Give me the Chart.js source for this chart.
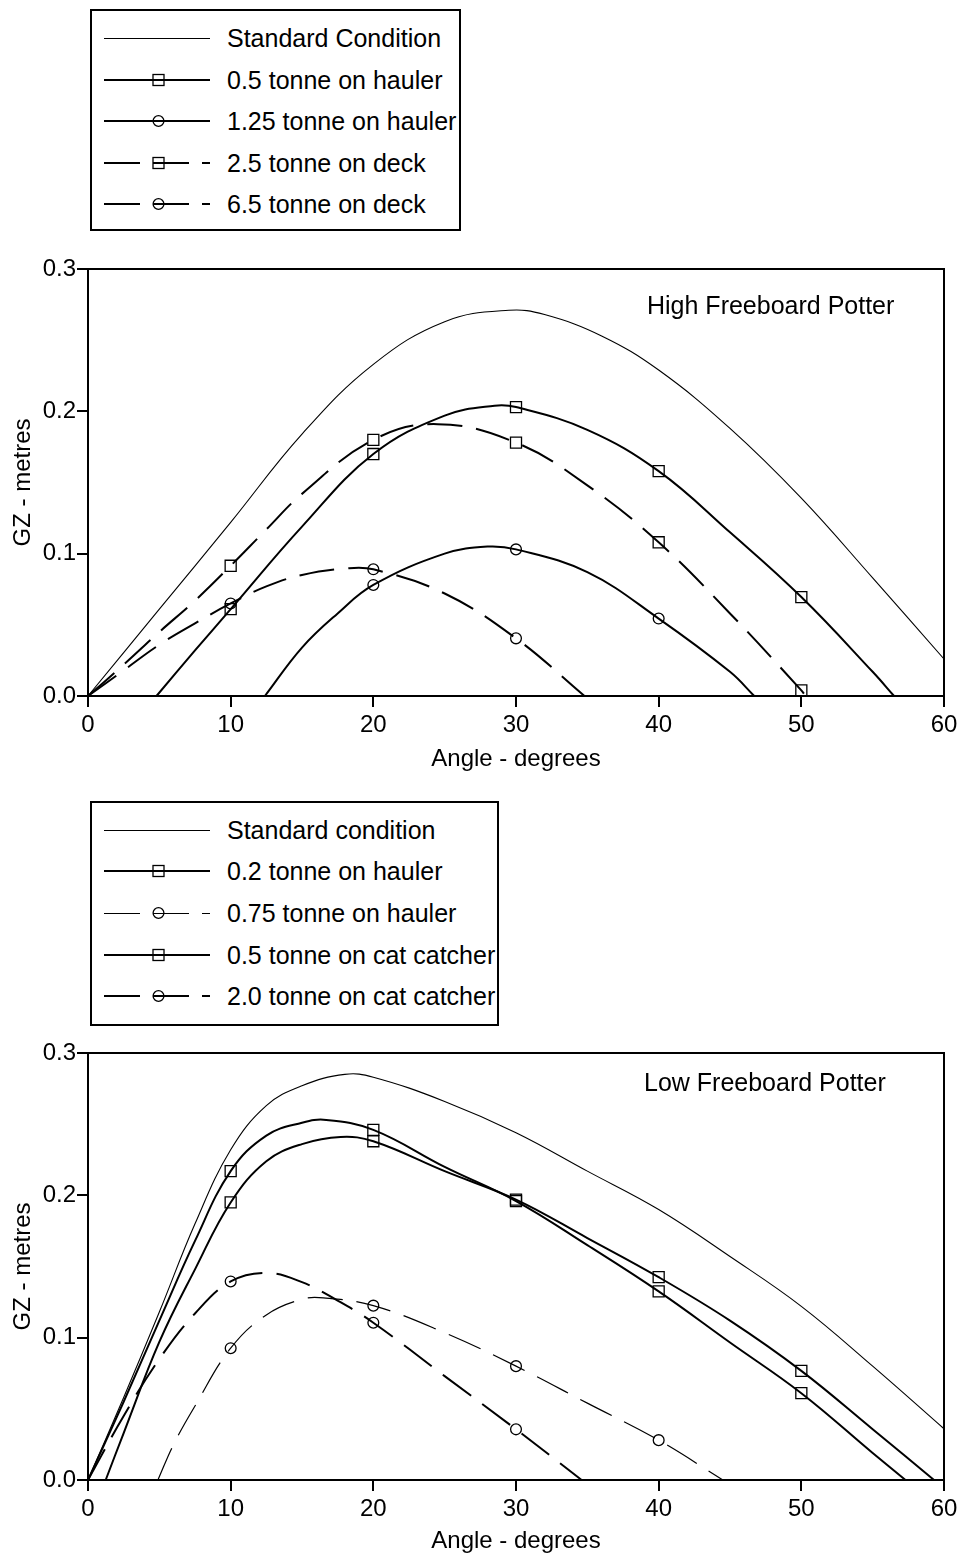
<!DOCTYPE html>
<html>
<head>
<meta charset="utf-8">
<script src="https://cdn.jsdelivr.net/npm/chart.js@4.4.1/dist/chart.umd.min.js"></script>
<style>
html,body{margin:0;padding:0;background:#fff;}
body{width:963px;height:1558px;position:relative;overflow:hidden;font-family:"Liberation Sans",Arial,sans-serif;color:#000;}
.panel{position:absolute;left:0;width:963px;height:779px;}
.panel canvas{position:absolute;left:0;top:0;}
.legend{position:absolute;border:2px solid #000;background:#fff;box-sizing:border-box;}
.row{position:absolute;left:0;height:30px;width:100%;}
.row svg{position:absolute;left:12px;top:5px;}
.row span{position:absolute;left:135px;top:0;font-size:25px;line-height:30px;white-space:nowrap;}
.ptitle{position:absolute;font-size:25px;line-height:30px;white-space:nowrap;}
</style>
</head>
<body>
<div class="panel" id="p1" style="top:0px"><canvas id="c1" width="963" height="779"></canvas></div>
<div class="panel" id="p2" style="top:779px"><canvas id="c2" width="963" height="779"></canvas></div>
<div class="legend" id="leg1" style="left:90px;top:9px;width:371px;height:222px;"></div>
<div class="legend" id="leg2" style="left:90px;top:801px;width:409px;height:225px;"></div>
<div class="ptitle" style="left:647px;top:290px;">High Freeboard Potter</div>
<div class="ptitle" style="left:644px;top:1067px;">Low Freeboard Potter</div>
<script>
// ---------- Axis ticks ----------
const angleTicks = [0, 10, 20, 30, 40, 50, 60];
const gzTicks = [0.0, 0.1, 0.2, 0.3];
const markerAngles = [10, 20, 30, 40, 50];

// ---------- High Freeboard Potter: [angle (deg), GZ (m)] ----------
const hiStandard = [[0,0],[5,0.061],[10,0.122],[15,0.184],[20,0.233],[25,0.263],[29.5,0.271],[32,0.268],[36,0.253],[40,0.229],[45,0.188],[50,0.139],[55,0.083],[60,0.026]];
const hiHauler05 = [[4.8,0],[7.5,0.032],[10,0.061],[15,0.119],[20,0.170],[25,0.197],[28.5,0.204],[30,0.203],[35,0.187],[40,0.158],[45,0.115],[50,0.0695],[55,0.017],[56.5,0]];
const hiHauler125 = [[12.4,0],[15,0.034],[17.5,0.058],[20,0.078],[25,0.100],[28,0.105],[30,0.103],[35,0.087],[40,0.0544],[45,0.017],[46.7,0]];
const hiDeck25 = [[0,0],[2.5,0.022],[5,0.045],[7.5,0.067],[10,0.0915],[12.5,0.117],[15,0.142],[20,0.180],[24.5,0.191],[30,0.178],[35,0.148],[40,0.108],[45,0.058],[50,0.004],[50.3,0]];
const hiDeck65 = [[0,0],[2.5,0.018],[5,0.036],[7.5,0.051],[10,0.065],[12.5,0.077],[15,0.085],[18,0.0895],[20,0.089],[25,0.072],[30,0.0405],[34.8,0]];

// ---------- Low Freeboard Potter ----------
const loStandard = [[0,0],[2.5,0.058],[5,0.118],[7.5,0.18],[10,0.232],[12.5,0.263],[15,0.277],[18,0.285],[20,0.283],[25,0.266],[30,0.244],[35,0.217],[40,0.19],[45,0.157],[50,0.122],[55,0.080],[60,0.036]];
const loHauler02 = [[0,0],[2.5,0.055],[5,0.112],[7.5,0.168],[10,0.217],[12.5,0.242],[15,0.251],[16.7,0.253],[20,0.246],[25,0.220],[30,0.196],[35,0.165],[40,0.1325],[45,0.0966],[50,0.061],[55,0.019],[57.3,0]];
const loHauler075 = [[4.9,0],[6,0.025],[7.5,0.052],[10,0.0926],[12.5,0.116],[15,0.127],[16.5,0.128],[20,0.1225],[25,0.1035],[30,0.080],[35,0.054],[40,0.028],[44.5,0]];
const loCat05 = [[1.24,0],[2.5,0.033],[5,0.097],[7.5,0.148],[10,0.195],[12.5,0.224],[15,0.236],[17.7,0.241],[20,0.238],[25,0.217],[30,0.197],[35,0.170],[40,0.1425],[45,0.112],[50,0.0767],[55,0.0357],[59.3,0]];
const loCat20 = [[0,0],[2.5,0.045],[5,0.085],[7.5,0.117],[10,0.1395],[12.5,0.1455],[15,0.139],[17.5,0.126],[20,0.1105],[25,0.073],[30,0.0356],[34.6,0]];

// ---------- Labels ----------
const hiLabels = ["Standard Condition","0.5 tonne on hauler","1.25 tonne on hauler","2.5 tonne on deck","6.5 tonne on deck"];
const loLabels = ["Standard condition","0.2 tonne on hauler","0.75 tonne on hauler","0.5 tonne on cat catcher","2.0 tonne on cat catcher"];
const xTitle = "Angle - degrees";
const yTitle = "GZ - metres";

// ---------- Styles ----------
const FONT = '"Liberation Sans", Arial, sans-serif';
const DASH = [35, 14];
const styles = {
  thin:      {w:1.1, dash:[],   marker:null},
  solidSq:   {w:2,   dash:[],   marker:'rect'},
  solidCi:   {w:2,   dash:[],   marker:'circle'},
  dashSq:    {w:2,   dash:DASH, marker:'rect'},
  dashCi:    {w:2,   dash:DASH, marker:'circle'},
  thinDashCi:{w:1.2, dash:DASH, marker:'circle'}
};
const hiStyles = ['thin','solidSq','solidCi','dashSq','dashCi'];
const loStyles = ['thin','solidSq','thinDashCi','solidSq','dashCi'];

function ds(label, pts, styleName){
  const s = styles[styleName];
  const r = s.marker === 'rect' ? 7.8 : 5.4;
  return {
    label,
    data: pts.map(p => ({x:p[0], y:p[1]})),
    borderColor:'#000',
    borderWidth:s.w,
    borderDash:s.dash,
    fill:false,
    tension:0.4,
    pointStyle: s.marker || 'circle',
    pointRadius: ctx => (s.marker && ctx.raw && markerAngles.includes(ctx.raw.x)) ? r : 0,
    pointHoverRadius: 0,
    pointBorderColor:'#000',
    pointBackgroundColor:'rgba(0,0,0,0)',
    pointBorderWidth:1.3,
    clip: 10
  };
}

const framePlugin = {
  id:'frame',
  afterDraw(chart){
    const {ctx, chartArea:a} = chart;
    ctx.save();
    ctx.strokeStyle = '#000';
    ctx.lineWidth = 2;
    ctx.setLineDash([]);
    ctx.strokeRect(a.left, a.top, a.right - a.left, a.bottom - a.top);
    ctx.restore();
  }
};

function makeChart(id, datasets, padTop, plotBottom, titlePadBottom){
  const H = 779;
  return new Chart(document.getElementById(id), {
    type:'line',
    data:{datasets},
    options:{
      responsive:false,
      animation:false,
      events:[],
      layout:{padding:{top:padTop, right:19, left:0, bottom:0}},
      plugins:{legend:{display:false}, tooltip:{enabled:false}},
      scales:{
        x:{
          type:'linear', min:0, max:60,
          afterFit(s){ s.height = H - plotBottom; },
          afterBuildTicks(s){ s.ticks = angleTicks.map(v => ({value:v})); },
          ticks:{color:'#000', font:{family:FONT, size:24}, padding:4, maxRotation:0, autoSkip:false},
          grid:{display:true, drawOnChartArea:false, drawTicks:true, tickLength:11, color:'#000', lineWidth:2},
          border:{display:true, color:'#000', width:2},
          title:{display:true, text:xTitle, color:'#000', font:{family:FONT, size:24}, padding:{top:0, bottom:titlePadBottom}}
        },
        y:{
          type:'linear', min:0, max:0.3,
          afterFit(s){ s.width = 88; },
          afterBuildTicks(s){ s.ticks = gzTicks.map(v => ({value:v})); },
          ticks:{color:'#000', font:{family:FONT, size:24}, padding:1, callback:v => Number(v).toFixed(1)},
          grid:{display:true, drawOnChartArea:false, drawTicks:true, tickLength:11, color:'#000', lineWidth:2},
          border:{display:true, color:'#000', width:2},
          title:{display:true, text:yTitle, color:'#000', font:{family:FONT, size:24}, padding:{top:9, bottom:0}}
        }
      }
    },
    plugins:[framePlugin]
  });
}

makeChart('c1', [
  ds(hiLabels[0], hiStandard, hiStyles[0]),
  ds(hiLabels[1], hiHauler05, hiStyles[1]),
  ds(hiLabels[2], hiHauler125, hiStyles[2]),
  ds(hiLabels[3], hiDeck25, hiStyles[3]),
  ds(hiLabels[4], hiDeck65, hiStyles[4])
], 269, 696, 5);

makeChart('c2', [
  ds(loLabels[0], loStandard, loStyles[0]),
  ds(loLabels[1], loHauler02, loStyles[1]),
  ds(loLabels[2], loHauler075, loStyles[2]),
  ds(loLabels[3], loCat05, loStyles[3]),
  ds(loLabels[4], loCat20, loStyles[4])
], 274, 701, 2);

// ---------- HTML legends ----------
function sampleSvg(styleName){
  const s = styles[styleName];
  const NS = 'http://www.w3.org/2000/svg';
  const svg = document.createElementNS(NS,'svg');
  svg.setAttribute('width','108'); svg.setAttribute('height','20');
  const yl = s.w < 1.5 ? '10.5' : '10';
  const line = document.createElementNS(NS,'line');
  line.setAttribute('x1','0'); line.setAttribute('x2','106');
  line.setAttribute('y1',yl); line.setAttribute('y2',yl);
  line.setAttribute('stroke','#000'); line.setAttribute('stroke-width', s.w < 1.5 ? '1' : '2');
  if (s.dash.length) line.setAttribute('stroke-dasharray','36 13');
  svg.appendChild(line);
  if (s.marker === 'rect'){
    const r = document.createElementNS(NS,'rect');
    r.setAttribute('x','49'); r.setAttribute('y','4.5');
    r.setAttribute('width','11'); r.setAttribute('height','11');
    r.setAttribute('fill','none'); r.setAttribute('stroke','#000'); r.setAttribute('stroke-width','1.3');
    svg.appendChild(r);
  } else if (s.marker === 'circle'){
    const c = document.createElementNS(NS,'circle');
    c.setAttribute('cx','54.5'); c.setAttribute('cy','10'); c.setAttribute('r','5.4');
    c.setAttribute('fill','none'); c.setAttribute('stroke','#000'); c.setAttribute('stroke-width','1.3');
    svg.appendChild(c);
  }
  return svg;
}
function buildLegend(id, labels, styleNames, centers){
  const box = document.getElementById(id);
  labels.forEach((lab, i) => {
    const row = document.createElement('div');
    row.className = 'row';
    row.style.top = (centers[i] - 15) + 'px';
    row.appendChild(sampleSvg(styleNames[i]));
    const sp = document.createElement('span');
    sp.textContent = lab;
    row.appendChild(sp);
    box.appendChild(row);
  });
}
buildLegend('leg1', hiLabels, hiStyles, [27, 68.5, 110, 151.5, 193]);
buildLegend('leg2', loLabels, loStyles, [26.6, 68.3, 110, 151.7, 193.4]);
</script>
</body>
</html>
